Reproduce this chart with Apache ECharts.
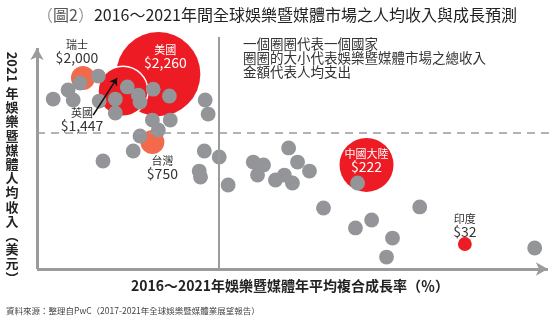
<!DOCTYPE html>
<html><head><meta charset="utf-8">
<script src="https://cdn.jsdelivr.net/npm/echarts@6/dist/echarts.min.js"></script>
<style>html,body{margin:0;padding:0;background:#fff}#c{width:554px;height:321px}</style>
</head><body><div id="c"></div>
<script>
// ---- data ----
const countries   = ['美國', '英國', '瑞士', '台灣', '中國大陸', '印度'];
const perCapita   = [2260, 1447, 2000, 750, 222, 32];           // USD per person (labels)
const growthX     = [2.85, 2.02, 1.08, 2.71, 7.74, 10.05];      // CAGR 2016-2021 (%)
const revenueY    = [88.2, 80.5, 86.4, 57.5, 47.1, 11.3];       // vertical position index
const marketSize  = [735, 260, 60, 60, 303, 20];                // total market (bubble area)

const otherX = [0.38,0.73,1.01,0.85,1.44,1.46,1.84,1.84,2.12,2.38,2.42,2.73,3.11,3.95,4.02,2.71,3.13,2.85,2.42,2.26,1.55,3.93,4.28,3.81,3.84,4.49,5.08,5.32,5.18,5.91,6.12,6.40,5.60,5.81,6.00,7.53,6.73,7.48,7.86,8.35,8.21,8.99,11.69];
const otherY = [76.9,81.0,84.2,76.5,87.3,76.0,76.9,70.6,82.4,78.7,75.6,81.4,78.3,76.5,70.1,67.4,67.4,62.9,60.2,53.4,48.9,53.4,50.7,44.3,41.6,38.0,48.4,47.1,42.5,54.8,48.4,44.3,40.3,42.5,38.9,38.9,27.6,18.6,22.2,14.0,5.4,28.1,9.5];
const otherMarket = 23;

const xMax = 12.12, yMax = 105;     // plot extent
const xArrowEnd = 12, yArrowEnd = 100;
const avgGrowth = 4.26;    // vertical divider (%)
const avgRevenue = 61.5;   // dashed horizontal divider

// ---- styles ----
const FONT = '"Noto Sans CJK TC", "Noto Sans", sans-serif';
const RED = '#ED1C24', ORANGE = '#F26A4B', GRAY = '#939598', AXIS = '#9B9B9B';
const styleMap = {
  '美國':   {color: RED,    txt: '#fff', offset: [7, -17]},
  '英國':   {color: RED,    txt: '#333', offset: [-41, 29], border: true},
  '瑞士':   {color: ORANGE, txt: '#333', offset: [-6, -26]},
  '台灣':   {color: ORANGE, txt: '#333', offset: [10, 26]},
  '中國大陸': {color: RED,    txt: '#fff', offset: [0, -4]},
  '印度':   {color: RED,    txt: '#333', offset: [0, -18]}
};
const sizeOf = m => 3.1 * Math.sqrt(m);

const hlData = countries.map((n, i) => {
  const s = styleMap[n];
  return {
    name: n,
    value: [growthX[i], revenueY[i], marketSize[i], perCapita[i]],
    itemStyle: {color: s.color, borderColor: s.border ? '#fff' : s.color, borderWidth: s.border ? 1.5 : 0, opacity: 1},
    label: {
      show: true, position: 'inside', offset: s.offset,
      formatter: p => '{n|' + p.name + '}\n{v|$' + p.value[3].toLocaleString('en-US') + '}',
      rich: {
        n: {fontSize: 11, lineHeight: 11, color: s.txt, fontFamily: FONT, align: 'center'},
        v: {fontSize: 14, lineHeight: 14, color: s.txt, fontFamily: FONT, align: 'center'}
      }
    }
  };
});
const otherData = otherX.map((x, i) => [x, otherY[i], otherMarket]);

function lineSeries(from, to, lineStyle, symbol, z) {
  return {
    type: 'scatter', data: [], z: z, silent: true,
    markLine: {
      silent: true, symbol: symbol || 'none', symbolSize: [10, 12], label: {show: false},
      lineStyle: lineStyle, emphasis: {disabled: true},
      data: [[{coord: from}, {coord: to}]]
    }
  };
}

const chart = echarts.init(document.getElementById('c'));
chart.setOption({
  animation: false,
  backgroundColor: '#fff',
  title: {
    left: 'center', top: 2,
    text: '{p|（}{b|圖2}{p|）}{t|2016～2021年間全球娛樂暨媒體市場之人均收入與成長預測}',
    textStyle: {fontWeight: 'normal', rich: {
      p: {fontSize: 16, fontWeight: 'normal', color: '#999', fontFamily: FONT},
      b: {fontSize: 16, fontWeight: 'normal', color: '#555', fontFamily: FONT},
      t: {fontSize: 16, fontWeight: 'normal', color: '#222', fontFamily: FONT}
    }}
  },
  grid: {left: 37, right: 1, top: 37, bottom: 52},
  xAxis: {
    type: 'value', min: 0, max: xMax,
    name: '2016～2021年娛樂暨媒體年平均複合成長率（％）',
    nameLocation: 'middle', nameGap: 10,
    nameTextStyle: {fontSize: 14, fontWeight: 'bold', color: '#222', fontFamily: FONT, padding: [0, 10, 0, 0]},
    axisLine: {show: false}, axisTick: {show: false}, axisLabel: {show: false}, splitLine: {show: false}
  },
  yAxis: {
    type: 'value', min: 0, max: yMax,
    axisLine: {show: false}, axisTick: {show: false}, axisLabel: {show: false}, splitLine: {show: false}
  },
  graphic: [
    {type: 'text', left: 243, top: 37, style: {text: '一個圈圈代表一個國家\n圈圈的大小代表娛樂暨媒體市場之總收入\n金額代表人均支出', fill: '#333', font: '13.5px ' + FONT, lineHeight: 14}},
    {type: 'text', x: 12, y: 67, rotation: -Math.PI / 2, style: {text: '2021', font: 'bold 13px ' + FONT, fill: '#222', align: 'center', verticalAlign: 'middle'}},
    {type: 'text', x: 12, y: 86, style: {text: '年\n娛\n樂\n暨\n媒\n體\n人\n均\n收\n入\n︵\n美\n元\n︶', font: 'bold 13px ' + FONT, fill: '#222', align: 'center', verticalAlign: 'top', lineHeight: 14.2}},
    {type: 'text', left: 6, top: 307, style: {text: '資料來源：整理自PwC（2017-2021年全球娛樂暨媒體業展望報告）', fill: '#444', font: '8.5px ' + FONT}}
  ],
  series: [
    lineSeries([avgGrowth, 0], [avgGrowth, yMax], {color: AXIS, width: 2, type: 'solid'}, 'none', 1),
    lineSeries([0, avgRevenue], [xMax, avgRevenue], {color: AXIS, width: 1.5, type: [8, 6]}, 'none', 1),
    lineSeries([0, 0], [0, yArrowEnd], {color: AXIS, width: 3, type: 'solid'}, ['none', 'arrow'], 1),
    lineSeries([0, 0], [xArrowEnd, 0], {color: AXIS, width: 3, type: 'solid'}, ['none', 'arrow'], 1),
    {
      type: 'scatter', z: 2, data: hlData,
      symbolSize: v => sizeOf(v[2])
    },
    {
      type: 'scatter', z: 3, data: otherData,
      symbolSize: v => sizeOf(v[2]),
      itemStyle: {color: GRAY, opacity: 1}
    },
    {
      type: 'scatter', data: [], z: 4, silent: true,
      markLine: {
        silent: true, symbol: ['none', 'arrow'], symbolSize: 7, label: {show: false},
        lineStyle: {color: '#111', width: 1.5, type: 'solid'},
        data: [[{coord: [1.32, 69.7]}, {coord: [1.88, 86.4]}]]
      }
    }
  ]
});
</script>
</body></html>
